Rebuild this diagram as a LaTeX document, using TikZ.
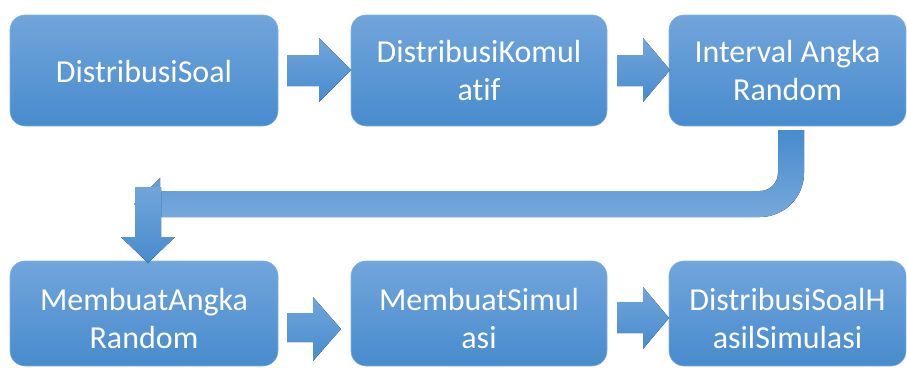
\documentclass[tikz,border=0pt]{standalone}
\usepackage{fontspec}
\setmainfont{Carlito}[Ligatures=NoCommon]
\definecolor{boxtop}{RGB}{113,165,219}
\definecolor{boxbot}{RGB}{72,139,205}
\definecolor{boxedge}{RGB}{132,178,226}
\tikzset{
  stepbox/.style={rectangle, rounded corners=15pt, top color=boxtop, bottom color=boxbot,
    draw=boxedge, line width=0.6pt, inner sep=0pt},
  lbl/.style={text=white, align=center, inner sep=0pt,
    font=\fontsize{32}{38}\selectfont},
  flow/.style={top color=boxtop, bottom color=boxbot, draw=none},
  flowup/.style={top color=boxbot, bottom color=boxtop!92!white, draw=none}
}
\begin{document}
\begin{tikzpicture}[x=1pt,y=-1pt]
\useasboundingbox (0,0) rectangle (907,367);

% top row
\node[stepbox, minimum width=268pt, minimum height=111pt] (b1) at (144,70.5) {};
\node[stepbox, minimum width=256pt, minimum height=111pt] (b2) at (479,70.5) {};
\node[stepbox, minimum width=237pt, minimum height=111pt] (b3) at (787.5,70.5) {};
% bottom row
\node[stepbox, minimum width=268pt, minimum height=105pt] (b4) at (144,313.5) {};
\node[stepbox, minimum width=256pt, minimum height=105pt] (b5) at (479,313.5) {};
\node[stepbox, minimum width=237pt, minimum height=105pt] (b6) at (787.5,313.5) {};

% labels
\node[lbl] (t1) at ([yshift=-1pt]b1.center) {DistribusiSoal};
\node[lbl] (t2) at (b2.center) {DistribusiKomul\\atif};
\node[lbl] (t3) at (b3.center) {Interval Angka\\Random};
\node[lbl] (t4) at ([yshift=-5pt]b4.center) {MembuatAngka\\Random};
\node[lbl] (t5) at ([yshift=-5pt]b5.center) {MembuatSimul\\asi};
\node[lbl] (t6) at ([yshift=-5pt]b6.center) {DistribusiSoalH\\asilSimulasi};

% block arrows between the steps
\fill[flow] (287,55) -- (319,55) -- (319,38) -- (351,70) -- (319,102) -- (319,86) -- (287,86) -- cycle;
\fill[flow] (617,55) -- (643,55) -- (643,38) -- (670,70) -- (643,102) -- (643,86) -- (617,86) -- cycle;
\fill[flow] (287,313) -- (313,313) -- (313,297) -- (341,329) -- (313,361) -- (313,342) -- (287,342) -- cycle;
\fill[flow] (617,302) -- (643,302) -- (643,287) -- (669,318) -- (643,349) -- (643,333) -- (617,333) -- cycle;

% bent arrow from the third step back to the left
\fill[flowup] (778,130) -- (804,130) -- (804,173)
  .. controls (804,197.3) and (784.3,217) .. (760,217)
  -- (160,217) -- (160,230) -- (134,204) -- (160,178) -- (160,191) -- (760,191)
  .. controls (769.9,191) and (778,182.9) .. (778,173) -- cycle;

% down arrow into the fourth step
\fill[flow] (135,187) -- (161,187) -- (161,237) -- (175,237) -- (148,263) -- (121,237) -- (135,237) -- cycle;
\end{tikzpicture}
\end{document}
